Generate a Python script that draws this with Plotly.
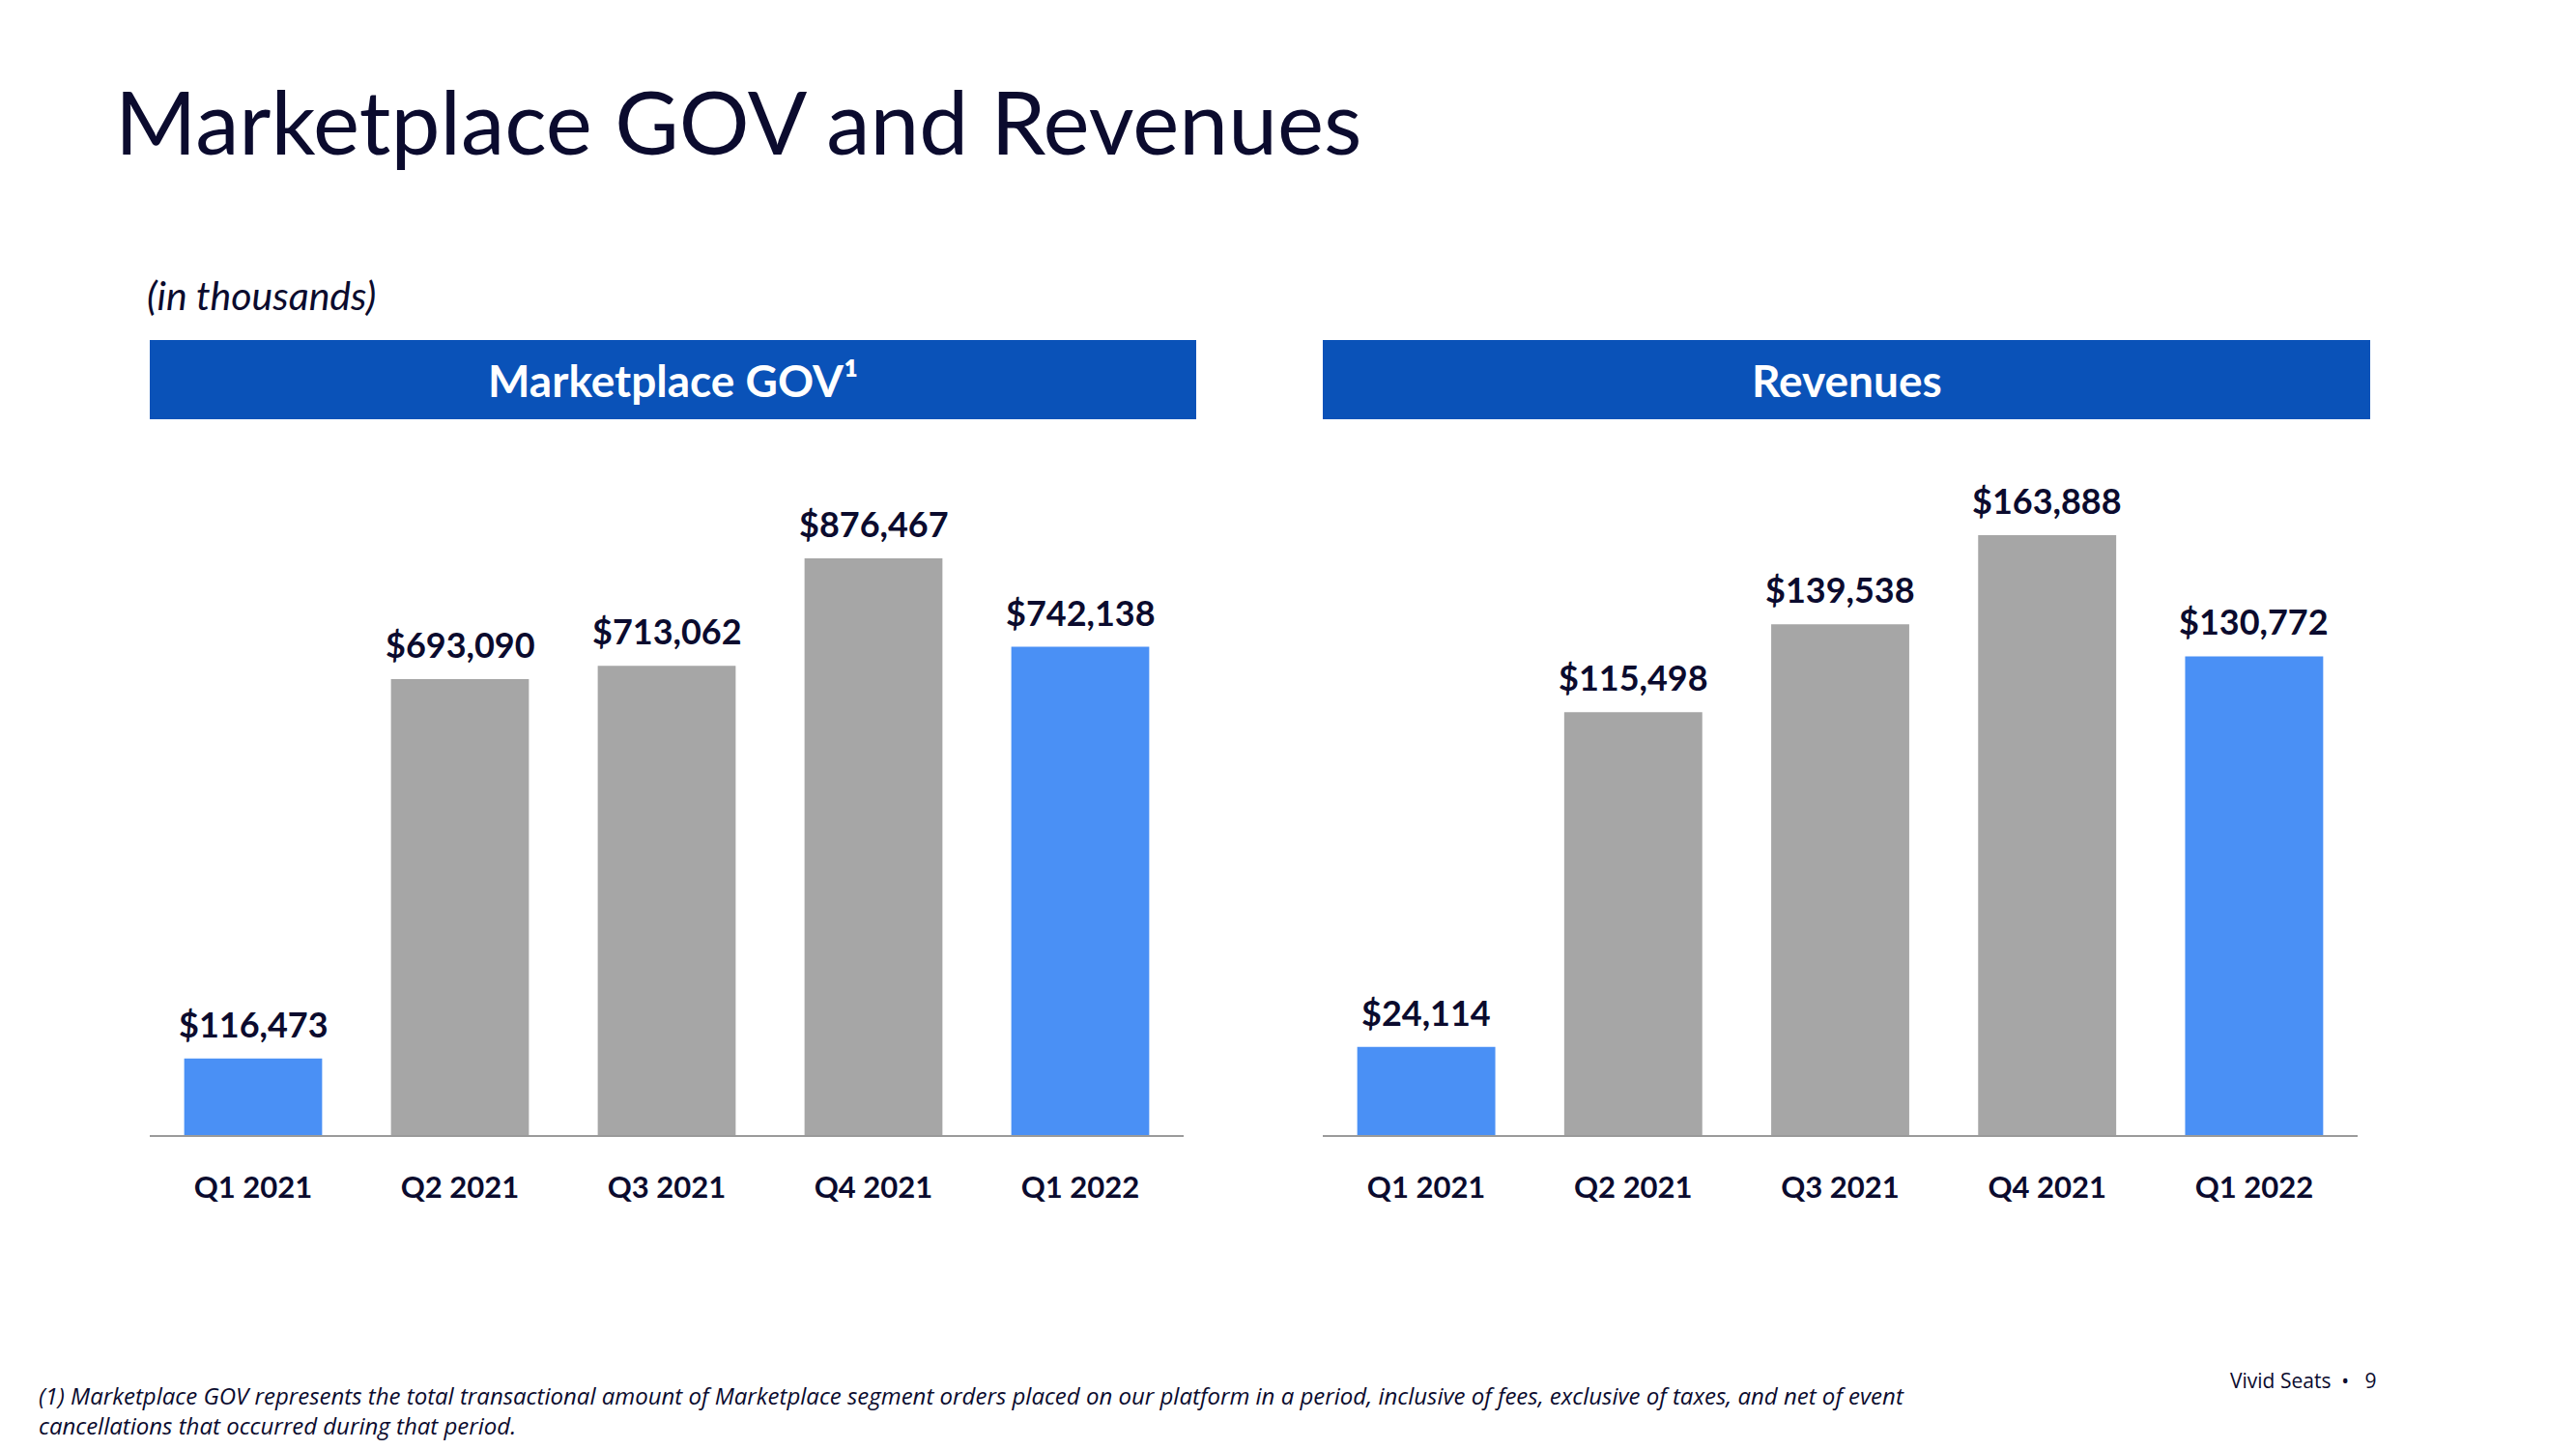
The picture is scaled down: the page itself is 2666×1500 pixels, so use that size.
import plotly.graph_objects as go

categories = ["Q1 2021", "Q2 2021", "Q3 2021", "Q4 2021", "Q1 2022"]
gov_values = [116473, 693090, 713062, 876467, 742138]
rev_values = [24114, 115498, 139538, 163888, 130772]
gov_labels = ["$116,473", "$693,090", "$713,062", "$876,467", "$742,138"]
rev_labels = ["$24,114", "$115,498", "$139,538", "$163,888", "$130,772"]

BLUE = "#4A90F5"
GRAY = "#A6A6A6"
HEADER = "#0A52B8"
NAVY = "#0B0B2E"
bar_colors = [BLUE, GRAY, GRAY, GRAY, BLUE]
FONT = "Lato"
FONT2 = "Open Sans"

W, H = 2666, 1500

fig = go.Figure()
fig.add_trace(go.Bar(x=categories, y=gov_values, marker_color=bar_colors,
                     marker_line_width=0, xaxis="x", yaxis="y", hoverinfo="skip"))
fig.add_trace(go.Bar(x=categories, y=rev_values, marker_color=bar_colors,
                     marker_line_width=0, xaxis="x2", yaxis="y2", hoverinfo="skip"))

ann = []
for c, v, t in zip(categories, gov_values, gov_labels):
    ann.append(dict(x=c, y=v, xref="x", yref="y", text=f"<b>{t}</b>", showarrow=False,
                    yanchor="bottom", yshift=12, font=dict(family=FONT, size=36, color=NAVY)))
for c, v, t in zip(categories, rev_values, rev_labels):
    ann.append(dict(x=c, y=v, xref="x2", yref="y2", text=f"<b>{t}</b>", showarrow=False,
                    yanchor="bottom", yshift=12, font=dict(family=FONT, size=36, color=NAVY)))

# Title and texts
ann.append(dict(x=117/W, y=1-124/H, xref="paper", yref="paper", xanchor="left", yanchor="middle",
                text="Marketplace GOV and Revenues", showarrow=False,
                font=dict(family=FONT, size=91, color=NAVY)))
ann.append(dict(x=150/W, y=1-306/H, xref="paper", yref="paper", xanchor="left", yanchor="middle",
                text="<i>(in thousands)</i>", showarrow=False,
                font=dict(family=FONT, size=41, color=NAVY)))
ann.append(dict(x=(155+1238)/2/W, y=1-393/H, xref="paper", yref="paper", xanchor="center", yanchor="middle",
                text="<b>Marketplace GOV¹</b>", showarrow=False,
                font=dict(family=FONT, size=46, color="white")))
ann.append(dict(x=(1369+2453)/2/W, y=1-393/H, xref="paper", yref="paper", xanchor="center", yanchor="middle",
                text="<b>Revenues</b>", showarrow=False,
                font=dict(family=FONT, size=46, color="white")))
ann.append(dict(x=38/W, y=1-1460/H, xref="paper", yref="paper", xanchor="left", yanchor="middle",
                align="left",
                text="<i>(1) Marketplace GOV represents the total transactional amount of Marketplace segment orders placed on our platform in a period, inclusive of fees, exclusive of taxes, and net of event<br>cancellations that occurred during that period.</i>",
                showarrow=False, font=dict(family=FONT2, size=24, color=NAVY)))
ann.append(dict(x=2462/W, y=1-1429/H, xref="paper", yref="paper", xanchor="right", yanchor="middle",
                text="Vivid Seats  •   9", showarrow=False,
                font=dict(family=FONT2, size=21, color=NAVY)))

shapes = [
    dict(type="rect", xref="paper", yref="paper", x0=155/W, x1=1238/W, y0=1-434/H, y1=1-352/H,
         fillcolor=HEADER, line_width=0, layer="below"),
    dict(type="rect", xref="paper", yref="paper", x0=1369/W, x1=2453/W, y0=1-434/H, y1=1-352/H,
         fillcolor=HEADER, line_width=0, layer="below"),
]

ybot = 1 - 1175/H
ytop = 1 - 455/H
plot_h = 1175 - 455
gov_max = plot_h * 876467 / 597
rev_max = plot_h * 163888 / 621

xcommon = dict(type="category", showgrid=False, zeroline=False, showline=True,
               linecolor="#9A9A9A", linewidth=2, ticks="outside", ticklen=26,
               tickcolor="rgba(0,0,0,0)",
               tickfont=dict(family=FONT, size=31, color=NAVY, weight="bold"),
               fixedrange=True)
ycommon = dict(showgrid=False, zeroline=False, showline=False, showticklabels=False,
               fixedrange=True)

fig.update_layout(
    width=W, height=H, autosize=False,
    margin=dict(l=0, r=0, t=0, b=0),
    paper_bgcolor="white", plot_bgcolor="white",
    showlegend=False, bargap=0.333,
    xaxis=dict(domain=[155/W, 1225/W], anchor="y", **xcommon),
    yaxis=dict(domain=[ybot, ytop], range=[0, gov_max], anchor="x", **ycommon),
    xaxis2=dict(domain=[1369/W, 2440/W], anchor="y2", **xcommon),
    yaxis2=dict(domain=[ybot, ytop], range=[0, rev_max], anchor="x2", **ycommon),
    annotations=ann, shapes=shapes,
)

fig.write_html("out.html", config={"displayModeBar": False})

# remove default page margin so the figure sits at the window origin
with open("out.html", encoding="utf-8") as f:
    html = f.read()
html = html.replace("<head>", "<head><style>html,body{margin:0;padding:0;overflow:hidden;}</style>", 1)
with open("out.html", "w", encoding="utf-8") as f:
    f.write(html)
